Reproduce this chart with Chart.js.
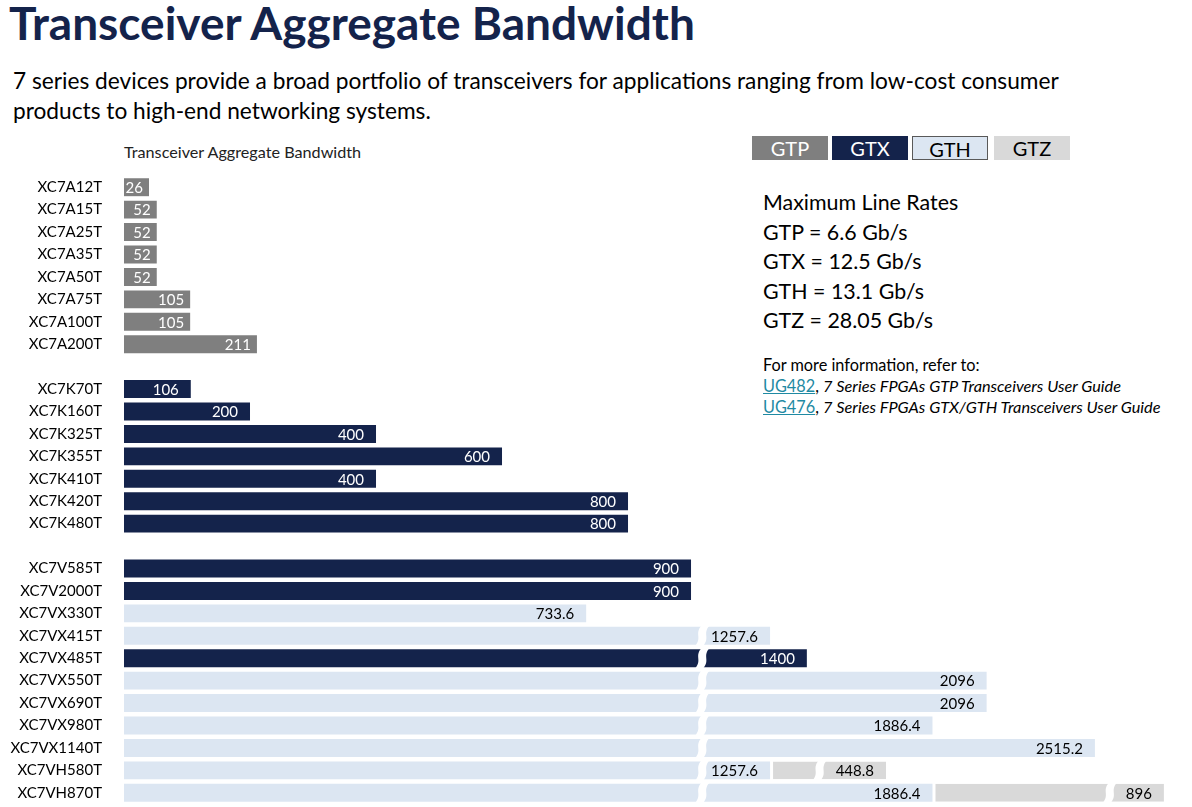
<!DOCTYPE html>
<html>
<head>
<meta charset="utf-8">
<script src="https://cdn.jsdelivr.net/npm/chart.js@4.4.0/dist/chart.umd.min.js"></script>
<style>
  html, body { margin: 0; padding: 0; background: #fff; font-family: Lato, "Open Sans", sans-serif; color: #000; overflow: hidden; }
  #page { position: relative; width: 1192px; height: 807px; overflow: hidden; }
  .abs { position: absolute; white-space: nowrap; }
  #title { left: 9px; top: -5px; font-size: 46px; font-weight: bold; color: #14234b; line-height: 56px; }
  #sub { left: 13px; top: 66px; font-size: 22.7px; line-height: 30px; }
  #ctitle { left: 124px; top: 142px; font-size: 16.2px; line-height: 20px; color: #222; }
  .lg { position: absolute; top: 136px; width: 76px; height: 24px; line-height: 24px; text-align: center; font-size: 20px; box-sizing: border-box; }
  #rates { left: 763px; top: 188px; font-size: 21.4px; line-height: 29.5px; }
  #info { left: 763px; top: 354px; font-size: 16.3px; line-height: 21px; }
  #info a { color: #1f8aa3; text-decoration: underline; }
  #info i { font-style: italic; }
  #bw-chart { position: absolute; left: 0; top: 140px; }
</style>
</head>
<body>
<div id="page">
  <div id="title" class="abs">Transceiver Aggregate Bandwidth</div>
  <div id="sub" class="abs">7 series devices provide a broad portfolio of transceivers for applications ranging from low-cost consumer<br>products to high-end networking systems.</div>
  <div id="ctitle" class="abs">Transceiver Aggregate Bandwidth</div>
  <div class="lg" style="left:752px;background:#7f7f7f;color:#fff;">GTP</div>
  <div class="lg" style="left:832px;background:#14234b;color:#fff;">GTX</div>
  <div class="lg" style="left:912px;background:#dce6f2;border:1px solid #595959;color:#000;">GTH</div>
  <div class="lg" style="left:994px;background:#d9d9d9;color:#000;">GTZ</div>
  <div id="rates" class="abs">Maximum Line Rates<br>GTP = 6.6 Gb/s<br>GTX = 12.5 Gb/s<br>GTH = 13.1 Gb/s<br>GTZ = 28.05 Gb/s</div>
  <div id="info" class="abs">For more information, refer to:<br><a>UG482</a>, <i>7 Series FPGAs GTP Transceivers User Guide</i><br><a>UG476</a>, <i>7 Series FPGAs GTX/GTH Transceivers User Guide</i></div>
  <canvas id="bw-chart" width="1192" height="667"></canvas>
</div>
<script>
// device names, blank rows split the Artix / Kintex / Virtex families
const devices = ['XC7A12T','XC7A15T','XC7A25T','XC7A35T','XC7A50T','XC7A75T','XC7A100T','XC7A200T',
    '',
    'XC7K70T','XC7K160T','XC7K325T','XC7K355T','XC7K410T','XC7K420T','XC7K480T',
    ' ',
    'XC7V585T','XC7V2000T','XC7VX330T','XC7VX415T','XC7VX485T','XC7VX550T','XC7VX690T','XC7VX980T','XC7VX1140T','XC7VH580T','XC7VH870T'];

const gtp = [26,52,52,52,52,105,105,211, null, null,null,null,null,null,null,null, null, null,null,null,null,null,null,null,null,null,null,null];
const gtx = [null,null,null,null,null,null,null,null, null, 106,200,400,600,400,800,800, null, 900,900,null,null,1400,null,null,null,null,null,null];
const gth = [null,null,null,null,null,null,null,null, null, null,null,null,null,null,null,null, null, null,null,733.6,1257.6,null,2096,2096,1886.4,2515.2,1257.6,1886.4];
const gtz = [null,null,null,null,null,null,null,null, null, null,null,null,null,null,null,null, null, null,null,null,null,null,null,null,null,null,448.8,896];

const seriesNames = ['GTP','GTX','GTH','GTZ'];
const seriesColors = ['#7f7f7f','#14234b','#dce6f2','#d9d9d9'];
const labelColors = ['#fff','#fff','#000','#000'];

// broken axis: linear up to the break, then compressed
const BREAK_LO = 910, BREAK_HI = 1015, GAP = 16, UPPER_RATE = 0.41, DISPLAY_MAX = 1692;

function toDisplay(v) {
    if (v <= BREAK_LO) return v;
    if (v <= BREAK_HI) return BREAK_LO + (v - BREAK_LO) / (BREAK_HI - BREAK_LO) * GAP;
    return BREAK_LO + GAP + (v - BREAK_HI) * UPPER_RATE;
}

class BrokenScale extends Chart.LinearScale {
    getPixelForValue(value) {
        if (value === null || value === undefined || isNaN(value)) return NaN;
        return this.getPixelForDecimal(toDisplay(value) / DISPLAY_MAX);
    }
}
BrokenScale.id = 'broken';
BrokenScale.defaults = Chart.LinearScale.defaults;
Chart.register(BrokenScale);

// white S-shaped gap across a bar
function drawBreak(ctx, x, top, bottom) {
    const h = bottom - top, w = 8;
    ctx.beginPath();
    ctx.moveTo(x + 3, top - 1);
    ctx.bezierCurveTo(x - 4, top + h * 0.4, x + 4, top + h * 0.6, x - 3, bottom + 1);
    ctx.lineTo(x - 3 + w, bottom + 1);
    ctx.bezierCurveTo(x + 4 + w, top + h * 0.6, x - 4 + w, top + h * 0.4, x + 3 + w, top - 1);
    ctx.closePath();
    ctx.fillStyle = '#fff';
    ctx.fill();
}

const barLabels = {
    id: 'barLabels',
    afterDatasetsDraw(chart) {
        const ctx = chart.ctx;
        const xs = chart.scales.x;
        const breakX = xs.getPixelForValue(BREAK_LO) + 1;
        ctx.save();
        ctx.font = '15px Lato';
        ctx.textBaseline = 'middle';
        ctx.textAlign = 'right';

        // breaks first
        chart.data.datasets.forEach((ds, di) => {
            const meta = chart.getDatasetMeta(di);
            meta.data.forEach((bar, i) => {
                const v = ds.data[i];
                if (v === null) return;
                const p = bar.getProps(['x','y','base','height'], true);
                const top = p.y - p.height / 2, bottom = p.y + p.height / 2;
                if (p.base < breakX && p.x > breakX + 12) {
                    drawBreak(ctx, breakX, top, bottom);
                }
                if (di === 3) {
                    const tw = ctx.measureText(String(v)).width;
                    drawBreak(ctx, p.x - 12 - tw - 20, top, bottom);
                }
            });
        });

        chart.data.datasets.forEach((ds, di) => {
            const meta = chart.getDatasetMeta(di);
            const pad = di === 0 ? 6 : 12;
            meta.data.forEach((bar, i) => {
                const v = ds.data[i];
                if (v === null) return;
                const p = bar.getProps(['x','y'], true);
                ctx.fillStyle = labelColors[di];
                ctx.fillText(String(v), p.x - pad, p.y + 1);
            });
        });
        ctx.restore();
    }
};

const ctx = document.getElementById('bw-chart').getContext('2d');
const allSeries = [gtp, gtx, gth, gtz];

const chart = new Chart(ctx, {
    type: 'bar',
    plugins: [barLabels],
    data: {
        labels: devices,
        datasets: allSeries.map((s, k) => ({
            label: seriesNames[k],
            data: s,
            backgroundColor: seriesColors[k],
            borderColor: '#fff',
            borderWidth: k === 3 ? {left: 3, right: 0, top: 0, bottom: 0} : 0,
            borderSkipped: false,
            minBarLength: k === 0 ? 25 : 0,
            barPercentage: 0.8,
            categoryPercentage: 1
        }))
    },
    options: {
        indexAxis: 'y',
        responsive: false,
        animation: false,
        devicePixelRatio: 1,
        layout: {
            padding: {left: 0, right: 2, top: 36, bottom: 3}
        },
        scales: {
            x: {
                type: 'broken',
                stacked: true,
                min: 0,
                max: DISPLAY_MAX,
                display: false
            },
            y: {
                stacked: true,
                grid: {display: false, drawTicks: false},
                border: {display: false},
                ticks: {
                    autoSkip: false,
                    padding: 22,
                    color: '#000',
                    font: {family: 'Lato', size: 15}
                },
                // fixed label column, no extra padding from first/last label
                afterFit: (scale) => {
                    scale.width = 124;
                    scale.paddingTop = 0;
                    scale.paddingBottom = 0;
                }
            }
        },
        plugins: {
            legend: {display: false},
            tooltip: {enabled: false}
        }
    }
});
</script>
</body>
</html>
